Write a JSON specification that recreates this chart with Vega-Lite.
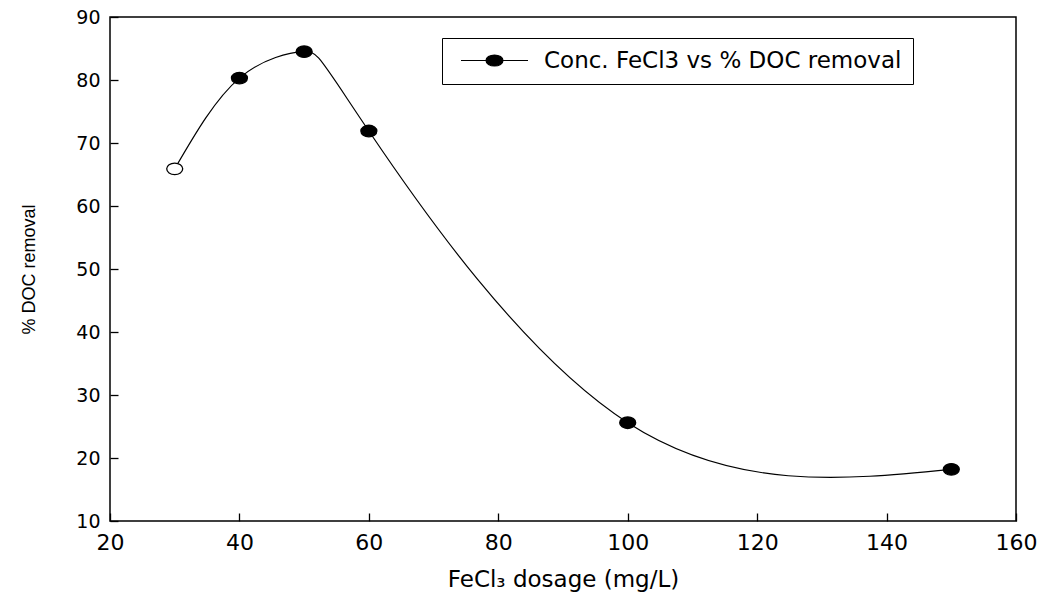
{
  "$schema": "https://vega.github.io/schema/vega-lite/v6.json",
  "width": 906,
  "height": 504,
  "autosize": "none",
  "padding": {"left": 110, "top": 17, "right": 27, "bottom": 78},
  "background": "white",
  "config": {
    "view": {"stroke": "black", "strokeWidth": 1.5},
    "axis": {
      "domain": false,
      "offset": -8,
      "tickColor": "black",
      "tickWidth": 1.3,
      "tickSize": 8,
      "grid": false,
      "labelColor": "black",
      "titleColor": "black",
      "labelFont": "DejaVu Sans",
      "titleFont": "DejaVu Sans",
      "titleFontWeight": "normal"
    }
  },
  "data": {
    "values": [
      {"dose": 30, "doc": 65.9, "marker": "open", "series": "Conc. FeCl3 vs % DOC removal"},
      {"dose": 40, "doc": 80.3, "marker": "filled", "series": "Conc. FeCl3 vs % DOC removal"},
      {"dose": 50, "doc": 84.5, "marker": "filled", "series": "Conc. FeCl3 vs % DOC removal"},
      {"dose": 60, "doc": 71.9, "marker": "filled", "series": "Conc. FeCl3 vs % DOC removal"},
      {"dose": 100, "doc": 25.6, "marker": "filled", "series": "Conc. FeCl3 vs % DOC removal"},
      {"dose": 150, "doc": 18.2, "marker": "filled", "series": "Conc. FeCl3 vs % DOC removal"}
    ]
  },
  "layer": [
    {
      "mark": {"type": "line", "interpolate": "natural", "strokeWidth": 1.2},
      "encoding": {
        "x": {
          "field": "dose", "type": "quantitative",
          "scale": {"domain": [20, 160], "nice": false},
          "axis": {"values": [20, 40, 60, 80, 100, 120, 140, 160], "title": "FeCl₃ dosage (mg/L)", "labelFontSize": 22, "labelPadding": 11, "titleFontSize": 23, "titlePadding": 15, "labelFlush": false}
        },
        "y": {
          "field": "doc", "type": "quantitative",
          "scale": {"domain": [10, 90], "nice": false, "zero": false},
          "axis": {"values": [10, 20, 30, 40, 50, 60, 70, 80, 90], "title": "% DOC removal", "labelFontSize": 19, "labelPadding": 10, "titleFont": "Liberation Sans", "titleFontSize": 18, "titlePadding": 37, "labelFlush": false}
        },
        "stroke": {
          "field": "series", "type": "nominal",
          "scale": {"range": ["black"]},
          "legend": {
            "title": null,
            "orient": "none",
            "legendX": 332,
            "legendY": 21,
            "strokeColor": "black",
            "fillColor": "white",
            "padding": 11,
            "labelFont": "DejaVu Sans",
            "labelFontSize": 23,
            "labelLimit": 600,
            "labelColor": "black",
            "labelOffset": 38,
            "symbolOffset": 30,
            "symbolType": "M-3.35,0H3.35M-0.85,0A0.85,0.55,0,1,0,0.85,0A0.85,0.55,0,1,0,-0.85,0Z",
            "symbolSize": 400,
            "symbolFillColor": "black",
            "symbolStrokeColor": "black",
            "symbolStrokeWidth": 1.2
          }
        }
      }
    },
    {
      "mark": {"type": "point", "shape": "M-1,0A1,0.72,0,1,0,1,0A1,0.72,0,1,0,-1,0Z", "size": 256, "stroke": "black", "strokeWidth": 1.3, "opacity": 1},
      "encoding": {
        "x": {"field": "dose", "type": "quantitative"},
        "y": {"field": "doc", "type": "quantitative"},
        "fill": {
          "field": "marker", "type": "nominal",
          "scale": {"domain": ["open", "filled"], "range": ["white", "black"]},
          "legend": null
        }
      }
    }
  ]
}
